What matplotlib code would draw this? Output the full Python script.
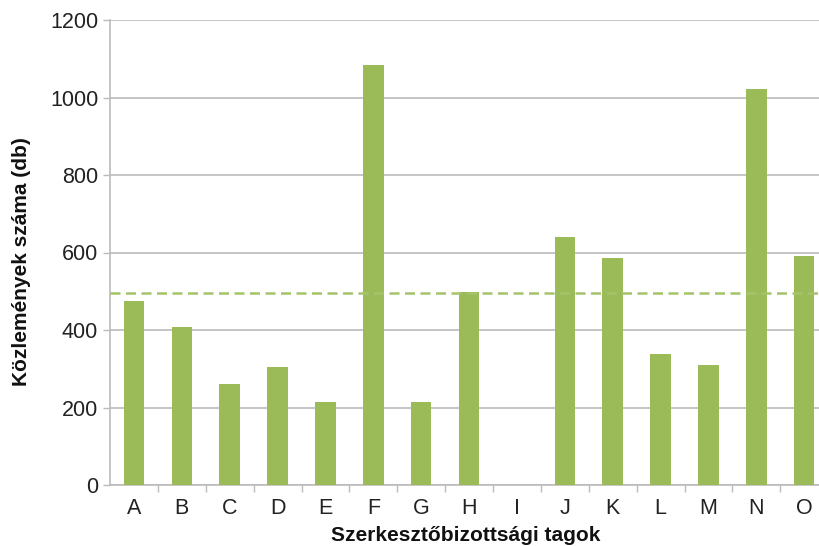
import numpy as np
import matplotlib.pyplot as plt

# Adatok leolvasva az ábráról
tagok = ['A', 'B', 'C', 'D', 'E', 'F', 'G', 'H', 'I', 'J', 'K', 'L', 'M', 'N', 'O']
kozlemenyek = [476, 407, 260, 305, 213, 1083, 215, 497, 0, 641, 587, 337, 310, 1022, 592]
atlag = 495

plt.rcParams['font.family'] = ['Liberation Sans', 'DejaVu Sans']

zold = '#9BBB59'
szurke = '#BBBBBB'

fig = plt.figure(figsize=(8.2, 5.46), dpi=100, facecolor='white')
ax = fig.add_axes([110 / 820, 61 / 546, 710 / 820, 465 / 546])

x = np.arange(len(tagok))
ax.bar(x, kozlemenyek, width=0.43, color=zold, zorder=3)
ax.axhline(atlag, color='#A5C46A', linestyle=(0, (4, 2.2)), linewidth=1.8, zorder=4)

ax.set_xlim(-0.5, 14.33)
ax.set_ylim(0, 1200)
ax.set_yticks(np.arange(0, 1201, 200))
ax.set_xticks(x)
ax.set_xticklabels(tagok)
ax.set_xticks(np.arange(0.5, 14, 1), minor=True)

ax.grid(axis='y', color=szurke, linewidth=1.2, zorder=0)
for s in ['top', 'right']:
    ax.spines[s].set_visible(False)
for s in ['left', 'bottom']:
    ax.spines[s].set_color(szurke)
    ax.spines[s].set_linewidth(1.2)

ax.tick_params(axis='x', which='major', length=0, pad=9, labelsize=15.5, colors='#222222')
ax.tick_params(axis='x', which='minor', length=5, color=szurke, width=1)
ax.tick_params(axis='y', length=5, color=szurke, width=1, labelsize=15.5, labelcolor='#222222')

# tengelyfeliratok
fig.text(22 / 820, 1 - 262 / 546, 'Közlemények száma (db)', rotation=90,
         ha='center', va='center', fontsize=15, fontweight='bold', color='#111111')
fig.text(466 / 820, 1 / 546, 'Szerkesztőbizottsági tagok',
         ha='center', va='bottom', fontsize=15, fontweight='bold', color='#111111')

fig.savefig('out.png', dpi=100, facecolor='white')
